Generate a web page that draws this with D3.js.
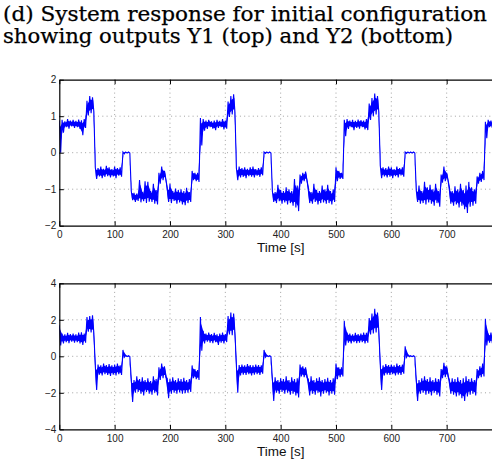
<!DOCTYPE html>
<html>
<head>
<meta charset="utf-8">
<script src="https://cdn.jsdelivr.net/npm/d3@7"></script>
<style>
  body { margin: 0; background: #fff; }
  svg { display: block; }
  .tick text { font-family: "Liberation Sans", Arial, sans-serif; font-size: 10px; fill: #222; }
</style>
</head>
<body>
<div id="chart"></div>
<script>
// sample spacing of the envelope (s); each bin holds the max / min of the trace
const binStep = 5;

// Y1 (top): upper and lower envelope per 5 s bin
const y1Hi = [
  0.88, 0.90, 0.86, 0.92, 0.88, 0.90, 0.87, 0.91, 0.89, 0.92,
  1.42, 1.55, 1.52,
  -0.40, -0.42, -0.38, -0.44, -0.36, -0.40, -0.45, -0.38, -0.42, -0.40,
  0.02, 0.02, 0.02,
  -1.05, -1.10, -1.12, -0.75, -1.08, -0.78, -0.80, -1.05, -0.85, -1.02,
  -0.55, -0.38, -0.50,
  -0.95, -0.85, -1.05, -0.98, -1.02, -1.00, -1.05, -0.96, -1.08,
  -0.50, -0.55, -0.55,
  0.95, 0.92, 0.88, 0.90, 0.86, 0.88, 0.90, 0.87, 0.92, 0.88,
  1.40, 1.55, 1.60,
  -0.42, -0.38, -0.42, -0.40, -0.44, -0.40, -0.38, -0.45, -0.42, -0.40,
  0.02, 0.02, 0.02,
  -1.05, -1.08, -0.88, -1.02, -1.05, -0.95, -1.00, -1.05, -0.72, -0.90,
  -0.60, -0.55, -0.52,
  -0.95, -1.08, -0.85, -1.02, -1.05, -0.90, -1.00, -0.88, -1.05, -1.00,
  -0.40, -0.50, -0.55,
  0.90, 0.92, 0.88, 0.90, 0.87, 0.91, 0.89, 0.88, 0.92,
  1.35, 1.50, 1.62, 1.55,
  -0.35, -0.40, -0.42, -0.38, -0.40, -0.45, -0.38, -0.42, -0.40,
  0.02, 0.02, 0.02, 0.02,
  -1.02, -0.90, -1.05, -0.80, -0.95, -0.88, -1.00, -0.85, -1.05,
  -0.60, -0.38, -0.55,
  -0.95, -1.05, -0.92, -1.00, -0.85, -1.02, -0.90, -0.80, -0.95, -1.00,
  -0.65, -0.55, -0.50,
  0.85, 0.90, 0.88
];
const y1Lo = [
  0.00, 0.55, 0.70, 0.66, 0.72, 0.68, 0.70, 0.65, 0.48, 0.68,
  1.02, 1.08, 1.12,
  -0.72, -0.65, -0.70, -0.66, -0.64, -0.68, -0.65, -0.70, -0.63, -0.66,
  -0.03, -0.01, -0.01,
  -1.30, -1.35, -1.32, -1.36, -1.33, -1.38, -1.34, -1.35, -1.40, -1.42,
  -0.85, -0.75, -0.72,
  -1.35, -1.38, -1.32, -1.40, -1.36, -1.42, -1.44, -1.38, -1.35,
  -0.75, -0.78, -0.80,
  0.20, 0.60, 0.65, 0.70, 0.66, 0.62, 0.68, 0.70, 0.64, 0.66,
  0.98, 1.05, 1.10,
  -0.75, -0.68, -0.66, -0.70, -0.64, -0.66, -0.68, -0.63, -0.66, -0.62,
  -0.02, -0.01, -0.01,
  -1.35, -1.38, -1.33, -1.40, -1.36, -1.42, -1.38, -1.45, -1.50, -1.60,
  -0.85, -0.78, -0.75,
  -1.38, -1.40, -1.35, -1.42, -1.38, -1.36, -1.40, -1.38, -1.42, -1.35,
  -0.78, -0.72, -0.72,
  0.45, 0.65, 0.70, 0.62, 0.68, 0.66, 0.70, 0.64, 0.62,
  0.90, 1.00, 1.05, 1.10,
  -0.70, -0.65, -0.68, -0.66, -0.70, -0.64, -0.68, -0.62, -0.66,
  -0.02, -0.01, -0.01, -0.01,
  -1.35, -1.40, -1.38, -1.42, -1.36, -1.40, -1.45, -1.38, -1.48,
  -0.82, -0.78, -0.75,
  -1.40, -1.45, -1.42, -1.50, -1.45, -1.55, -1.65, -1.48, -1.45, -1.40,
  -0.85, -0.80, -0.75,
  0.40, 0.70, 0.68
];

// Y2 (bottom)
const y2Hi = [
  1.70, 1.25, 1.20, 1.28, 1.22, 1.25, 1.20, 1.30, 1.32, 1.25,
  2.15, 2.20, 2.25,
  -0.50, -0.45, -0.50, -0.40, -0.48, -0.42, -0.50, -0.45, -0.40, -0.50,
  0.35, 0.05, 0.03,
  -1.20, -1.30, -1.10, -1.25, -1.15, -1.30, -1.20, -1.35, -1.10, -1.25,
  -0.60, -0.40, -0.55,
  -1.20, -1.25, -1.15, -1.30, -1.20, -1.25, -1.18, -1.30, -1.25,
  -0.50, -0.70, -0.75,
  2.15, 1.40, 1.25, 1.30, 1.22, 1.28, 1.20, 1.25, 1.30, 1.22,
  2.20, 2.40, 2.35,
  -0.50, -0.48, -0.45, -0.50, -0.42, -0.48, -0.50, -0.45, -0.48, -0.50,
  0.35, 0.05, 0.03,
  -1.20, -1.15, -1.30, -1.20, -1.25, -1.10, -1.30, -1.15, -1.25, -1.20,
  -0.45, -0.55, -0.60,
  -1.25, -1.10, -1.30, -1.20, -1.15, -1.30, -1.25, -1.18, -1.30, -1.20,
  -0.40, -0.60, -0.60,
  1.95, 1.30, 1.25, 1.20, 1.28, 1.22, 1.25, 1.30, 1.28,
  2.10, 2.35, 2.60, 2.40,
  -0.45, -0.50, -0.42, -0.48, -0.45, -0.50, -0.40, -0.48, -0.45,
  0.55, 0.08, 0.03, 0.03,
  -1.25, -1.30, -1.20, -1.10, -1.25, -1.15, -1.30, -1.20, -1.25,
  -0.70, -0.35, -0.55,
  -1.30, -1.20, -1.25, -1.15, -1.30, -1.20, -1.10, -1.25, -1.20, -1.30,
  -0.70, -0.55, -0.40,
  2.05, 1.25, 1.30
];
const y2Lo = [
  0.60, 0.70, 0.78, 0.72, 0.80, 0.75, 0.78, 0.70, 0.62, 0.75,
  1.35, 1.30, 1.25,
  -1.85, -1.00, -1.05, -0.98, -1.02, -1.08, -1.00, -1.05, -0.98, -1.02,
  -0.05, -0.02, -0.02,
  -2.50, -2.00, -1.95, -2.05, -2.15, -1.95, -2.05, -2.10, -2.00, -2.15,
  -1.30, -1.20, -1.15,
  -2.30, -2.05, -2.00, -2.05, -1.98, -2.05, -2.02, -2.00, -1.95,
  -1.20, -1.25, -1.30,
  0.30, 0.70, 0.80, 0.75, 0.72, 0.78, 0.62, 0.75, 0.70, 0.78,
  1.20, 1.15, 1.25,
  -2.00, -1.05, -1.00, -1.02, -0.98, -1.05, -1.00, -0.98, -1.02, -0.95,
  -0.05, -0.02, -0.02,
  -2.45, -2.00, -2.05, -1.95, -2.05, -2.00, -2.10, -2.05, -2.15, -2.25,
  -1.10, -1.15, -1.15,
  -2.15, -2.05, -2.10, -2.00, -2.20, -2.05, -2.00, -2.15, -2.05, -2.10,
  -1.25, -1.15, -1.10,
  0.60, 0.75, 0.70, 0.78, 0.72, 0.75, 0.78, 0.70, 0.75,
  1.20, 1.25, 1.30, 1.35,
  -1.85, -1.05, -1.00, -1.02, -0.98, -1.05, -1.00, -1.02, -0.95,
  -0.05, -0.02, -0.02, -0.02,
  -2.45, -2.05, -2.00, -2.10, -2.05, -2.15, -2.00, -2.10, -2.20,
  -1.20, -1.15, -1.10,
  -2.05, -2.10, -2.20, -2.15, -2.30, -2.45, -2.20, -2.10, -2.05, -2.15,
  -1.20, -1.15, -1.10,
  0.60, 0.75, 0.72
];

const xTicks = [0, 100, 200, 300, 400, 500, 600, 700];
const y1Ticks = [-2, -1, 0, 1, 2];
const y2Ticks = [-4, -2, 0, 2, 4];
const titleLines = [
  "(d) System response for initial configuration",
  "showing outputs Y1 (top) and Y2 (bottom)"
];

const width = 492, height = 466;

const svg = d3.select("#chart")
  .append("svg")
  .attr("width", width)
  .attr("height", height);

// title
svg.selectAll("text.title")
  .data(titleLines)
  .join("text")
  .attr("class", "title")
  .attr("x", 3)
  .attr("y", (d, i) => 20.5 + i * 22.5)
  .attr("textLength", (d, i) => i === 0 ? 484 : 450)
  .attr("lengthAdjust", "spacingAndGlyphs")
  .style("font-family", "'DejaVu Serif', 'Liberation Serif', serif")
  .style("font-size", "21px")
  .style("fill", "#000")
  .style("stroke", "#000")
  .style("stroke-width", 0.25)
  .text(d => d);

const x = d3.scaleLinear().domain([0, 800]).range([59.3, 502]);

function drawPanel(top, bottom, yDomain, yTicks, hi, lo, id) {
  const y = d3.scaleLinear().domain(yDomain).range([bottom, top]);
  const g = svg.append("g");

  g.append("clipPath").attr("id", id)
    .append("rect")
    .attr("x", x.range()[0]).attr("y", top)
    .attr("width", x.range()[1] - x.range()[0]).attr("height", bottom - top);

  // dotted grid
  g.selectAll("line.vg")
    .data(xTicks.filter(d => d > 0))
    .join("line")
    .attr("x1", d => x(d)).attr("x2", d => x(d))
    .attr("y1", top).attr("y2", bottom)
    .attr("stroke", "#8a8a8a").attr("stroke-width", 0.8)
    .attr("stroke-dasharray", "1,3.3");
  g.selectAll("line.hg")
    .data(yTicks.slice(1, -1))
    .join("line")
    .attr("y1", d => y(d)).attr("y2", d => y(d))
    .attr("x1", x.range()[0]).attr("x2", x.range()[1])
    .attr("stroke", "#8a8a8a").attr("stroke-width", 0.8)
    .attr("stroke-dasharray", "1,3.3");

  const bins = hi.map((h, i) => ({ t: i * binStep, hi: h, lo: lo[i] }));

  // dense core of the noise band (inner part of each bin's range)
  g.append("path")
    .datum(bins)
    .attr("clip-path", `url(#${id})`)
    .attr("fill", "#0000ff")
    .attr("d", d3.area()
      .x(d => x(d.t + binStep / 4))
      .y0(d => y(d.lo + 0.2 * (d.hi - d.lo)))
      .y1(d => y(d.hi - 0.2 * (d.hi - d.lo))));

  // trace: zigzag through each bin's max then min
  const pts = [];
  bins.forEach(b => {
    pts.push([b.t, b.hi]);
    pts.push([b.t + binStep / 2, b.lo]);
  });
  g.append("path")
    .datum(pts)
    .attr("clip-path", `url(#${id})`)
    .attr("fill", "none")
    .attr("stroke", "#0000ff")
    .attr("stroke-width", 1.1)
    .attr("d", d3.line().x(d => x(d[0])).y(d => y(d[1])));

  // axes
  g.append("g")
    .attr("transform", `translate(0,${bottom})`)
    .call(d3.axisBottom(x).tickValues(xTicks).tickSizeInner(-4.5).tickSizeOuter(0).tickPadding(5.5))
    .call(a => a.select(".domain").attr("stroke", "#000").attr("stroke-width", 1.2));
  g.append("g")
    .attr("transform", `translate(0,${top})`)
    .call(d3.axisTop(x).tickValues(xTicks).tickSizeInner(-4.5).tickSizeOuter(0).tickFormat(""))
    .call(a => a.select(".domain").attr("stroke", "#000").attr("stroke-width", 1.2));
  g.append("g")
    .attr("transform", `translate(${x.range()[0]},0)`)
    .call(d3.axisLeft(y).tickValues(yTicks).tickSizeInner(-4.5).tickSizeOuter(0).tickPadding(3)
      .tickFormat(d3.format("d")))
    .call(a => a.select(".domain").attr("stroke", "#000").attr("stroke-width", 1.2));

  g.append("text")
    .attr("x", (x.range()[0] + x.range()[1]) / 2)
    .attr("y", bottom + 26.7)
    .attr("text-anchor", "middle")
    .style("font-family", "'Liberation Sans', Arial, sans-serif")
    .style("font-size", "13.5px")
    .style("fill", "#111")
    .text("Time [s]");
}

drawPanel(79.7, 225.7, [-2, 2], y1Ticks, y1Hi, y1Lo, "clip1");
drawPanel(283.3, 429.3, [-4, 4], y2Ticks, y2Hi, y2Lo, "clip2");
</script>
</body>
</html>
